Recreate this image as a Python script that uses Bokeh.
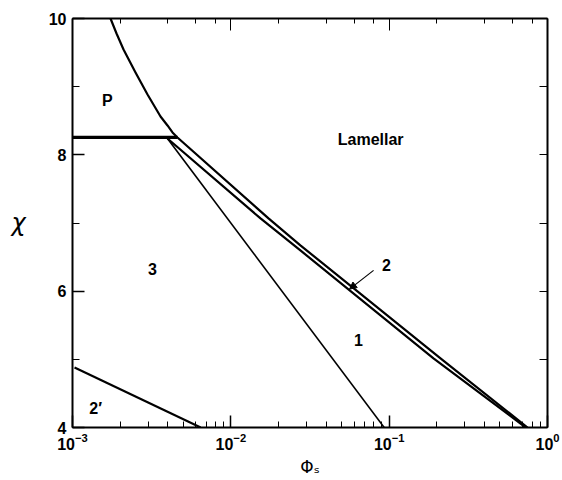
from bokeh.plotting import figure
from bokeh.models import (Range1d, LogAxis, LinearAxis, FixedTicker, LogTicker,
                          CustomJSTickFormatter, Label, Arrow, NormalHead)
from bokeh.embed import file_html
from bokeh.resources import INLINE

# ---- data ----
upper_x = [0.001738, 0.001897, 0.002100, 0.002500, 0.002977, 0.003597, 0.003981, 0.004281, 0.004602,
           0.0173, 0.0275, 0.0587, 0.211, 0.748]
upper_y = [10.0, 9.78, 9.545, 9.208, 8.886, 8.563, 8.431, 8.328, 8.255,
           7.067, 6.672, 6.056, 5.015, 4.0]

lower_x = [0.00398, 0.0154, 0.0275, 0.1905, 0.728]
lower_y = [8.24, 7.067, 6.598, 5.015, 4.0]

horiz_x = [0.001, 0.0046]
horiz_y = [8.255, 8.255]

line1_x = [0.00398, 0.093]
line1_y = [8.24, 4.0]

line2p_x = [0.00103, 0.00645]
line2p_y = [4.88, 4.0]

region_names = ["P", "Lamellar", "3", "2", "1", "2\u2032"]
region_x = [0.00166, 0.0764, 0.0032, 0.096, 0.064, 0.0014]
region_y = [8.80, 8.23, 6.33, 6.38, 5.29, 4.28]

arrow_from = (0.0797, 6.305)
arrow_to = (0.0562, 6.03)

y_major = [4, 6, 8, 10]
y_minor = [5, 7, 9]
y_right = [5, 6, 7, 8, 9]

FONT = "Liberation Sans"

p = figure(x_axis_type="log", x_range=Range1d(1e-3, 1.0), y_range=Range1d(4, 10),
           width=562, height=480,
           min_border_left=72, min_border_right=15, min_border_top=18, min_border_bottom=53,
           output_backend="svg", toolbar_location=None)
p.grid.visible = False
p.outline_line_color = None
p.background_fill_color = "white"
p.border_fill_color = "white"

# bottom axis
xa = p.xaxis[0]
xa.major_tick_in = 12
xa.major_tick_out = 0
xa.minor_tick_in = 6
xa.minor_tick_out = 0
xa.axis_line_width = 2
xa.major_tick_line_width = 1.5
xa.major_label_text_font = FONT
xa.major_label_text_font_size = "16px"
xa.major_label_text_font_style = "bold"
xa.major_label_text_color = "black"
xa.major_label_standoff = 5
xa.axis_label = "\u03a6\u209b"
xa.axis_label_text_font = "DejaVu Sans"
xa.axis_label_text_font_size = "17px"
xa.axis_label_text_font_style = "normal"
xa.axis_label_text_color = "black"
xa.axis_label_standoff = 4

# left axis
ya = p.yaxis[0]
ya.ticker = FixedTicker(ticks=y_major, minor_ticks=y_minor)
ya.major_tick_in = 12
ya.major_tick_out = 0
ya.minor_tick_in = 7
ya.minor_tick_out = 0
ya.axis_line_width = 2
ya.major_tick_line_width = 1.5
ya.major_label_text_font = FONT
ya.major_label_text_font_size = "16px"
ya.major_label_text_font_style = "bold"
ya.major_label_text_color = "black"
ya.major_label_standoff = 6
ya.axis_label = "\u03c7"
ya.axis_label_orientation = "horizontal"
ya.axis_label_text_font = "DejaVu Sans"
ya.axis_label_text_font_size = "24px"
ya.axis_label_text_font_style = "italic"
ya.axis_label_text_color = "black"
ya.axis_label_standoff = 20

empty = CustomJSTickFormatter(code="return ''")

top = LogAxis(ticker=LogTicker(), formatter=empty, major_tick_in=12, major_tick_out=0,
              minor_tick_in=5, minor_tick_out=0, axis_line_width=2, major_label_standoff=0)
p.add_layout(top, "above")

right = LinearAxis(ticker=FixedTicker(ticks=y_right, minor_ticks=[]), formatter=empty,
                   major_tick_in=8, major_tick_out=0, minor_tick_in=0, minor_tick_out=0,
                   axis_line_width=2, major_label_standoff=0)
p.add_layout(right, "right")

# ---- lines ----
p.line(upper_x, upper_y, line_color="black", line_width=2.2, line_join="round")
p.line(lower_x, lower_y, line_color="black", line_width=2.2, line_join="round")
p.line(horiz_x, horiz_y, line_color="black", line_width=3.2)
p.line(line1_x, line1_y, line_color="black", line_width=1.6)
p.line(line2p_x, line2p_y, line_color="black", line_width=2.2)

# ---- region labels ----
for name, xx, yy in zip(region_names, region_x, region_y):
    p.add_layout(Label(x=xx, y=yy, text=name, text_font=FONT, text_font_size="16px",
                       text_font_style="bold", text_align="center", text_baseline="middle",
                       text_color="black"))

p.add_layout(Arrow(x_start=arrow_from[0], y_start=arrow_from[1], x_end=arrow_to[0], y_end=arrow_to[1],
                   line_width=1.2, end=NormalHead(size=7, fill_color="black", line_color="black")))

open("out.html", "w").write(file_html(p, INLINE))
